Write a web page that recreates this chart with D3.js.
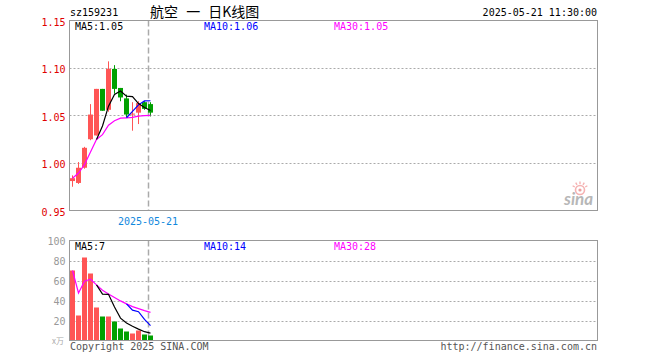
<!DOCTYPE html>
<html><head><meta charset="utf-8">
<script src="https://cdn.jsdelivr.net/npm/d3@7"></script>
<style>html,body{margin:0;padding:0;background:#fff;} svg{display:block;}</style>
</head><body>
<svg id="c" width="660" height="360"></svg>
<script>
// ---------- data ----------
const symbol = "sz159231";
const title = "航空 一 日K线图";
const stamp = "2025-05-21 11:30:00";
const dateLabels = ["2025-05-21"];
const dateLabelIndex = [13];
const openP  = [0.981, 0.979, 0.995, 1.025, 1.029, 1.078, 1.056, 1.099, 1.079, 1.068, 1.051, 1.053, 1.064, 1.062];
const highP  = [0.987, 1.001, 1.017, 1.062, 1.078, 1.078, 1.107, 1.103, 1.079, 1.072, 1.064, 1.065, 1.065, 1.064];
const lowP   = [0.975, 0.978, 0.994, 1.024, 1.029, 1.055, 1.054, 1.073, 1.065, 1.048, 1.034, 1.041, 1.056, 1.049];
const closeP = [0.984, 0.995, 1.016, 1.051, 1.078, 1.055, 1.099, 1.078, 1.069, 1.051, 1.052, 1.063, 1.057, 1.053];
const ma5  = [null, null, null, null, 1.0248, 1.0390, 1.0598, 1.0722, 1.0758, 1.0704, 1.0698, 1.0626, 1.0584, 1.0552];
const ma10 = [null, null, null, null, null, null, null, null, null, 1.0476, 1.0544, 1.0612, 1.0653, 1.0655];
const ma30 = [0.984, 0.9895, 0.9983, 1.0115, 1.0248, 1.0298, 1.0397, 1.0445, 1.0472, 1.0476, 1.0480, 1.0493, 1.0498, 1.0501];
const volume = [70, 25, 83, 67, 33, 24, 24, 19, 12, 9, 7, 10, 6, 5];
const vma5  = [null, null, null, null, 55.6, 46.4, 46.2, 33.4, 22.4, 17.6, 14.2, 11.4, 8.8, 7.4];
const vma10 = [null, null, null, null, null, null, null, null, null, 36.6, 30.3, 28.8, 21.1, 14.9];
const vma30 = [70, 47.5, 59.3, 61.3, 55.6, 50.3, 46.6, 43.1, 39.6, 36.6, 33.9, 31.9, 29.9, 28.1];
const priceTicks = [0.95, 1.00, 1.05, 1.10, 1.15];
const volTicks = [20, 40, 60, 80, 100];
const priceLegend = ["MA5:1.05", "MA10:1.06", "MA30:1.05"];
const volLegend = ["MA5:7", "MA10:14", "MA30:28"];
const volUnit = "x万";
const copyright = "Copyright 2025 SINA.COM";
const siteUrl = "http://finance.sina.com.cn";

// ---------- layout ----------
const svg = d3.select("#c");
const mono = "'DejaVu Sans Mono', 'Liberation Mono', monospace";
const L = 69.5, R = 597.5;
const pTop = 20.5, pBot = 210.5, vTop = 240.5, vBot = 340.5;
const RED = "#ff5555", GREEN = "#00a000";
const maColors = ["#000000", "#0000ff", "#ff00ff"];

const x = d3.scaleLinear().domain([0, 88]).range([70, 598]);
const yP = d3.scaleLinear().domain([0.95, 1.15]).range([pBot, pTop]);
const yV = d3.scaleLinear().domain([0, 100]).range([vBot, vTop]);
const idx = d3.range(closeP.length);

svg.append("rect").attr("width", 660).attr("height", 360).attr("fill", "#fff");

// header
svg.append("text").attr("x", 70).attr("y", 16).attr("font-family", mono).attr("font-size", 10)
  .attr("fill", "#000").text(symbol);
svg.append("text").attr("x", 150).attr("y", 17).attr("font-family", "'Noto Sans CJK SC', sans-serif")
  .attr("font-size", 14).attr("word-spacing", 5).attr("fill", "#000").text(title);
svg.append("text").attr("x", 597).attr("y", 16).attr("text-anchor", "end").attr("font-family", mono)
  .attr("font-size", 10).attr("fill", "#000").text(stamp);

// grids
function grid(scale, ticks) {
  svg.append("g").selectAll("line").data(ticks).join("line")
    .attr("x1", L).attr("x2", R)
    .attr("y1", d => Math.round(scale(d)) + 0.5).attr("y2", d => Math.round(scale(d)) + 0.5)
    .attr("stroke", "#aaa").attr("stroke-dasharray", "2,2");
}
grid(yP, [1.00, 1.05, 1.10]);
grid(yV, [20, 40, 60, 80]);

// dashed date line
dateLabelIndex.forEach(i => {
  const xx = Math.round(x(i)) + 0.5;
  svg.append("line").attr("x1", xx).attr("x2", xx).attr("y1", pTop).attr("y2", pBot)
    .attr("stroke", "#aaa").attr("stroke-width", 1.5).attr("stroke-dasharray", "6,3");
  svg.append("line").attr("x1", xx).attr("x2", xx).attr("y1", vTop).attr("y2", vBot)
    .attr("stroke", "#aaa").attr("stroke-width", 1.5).attr("stroke-dasharray", "6,3");
});

// sina logo
const logo = svg.append("g").attr("opacity", 0.6);
logo.append("circle").attr("cx", 580).attr("cy", 190).attr("r", 4.5).attr("fill", "none")
  .attr("stroke", "#f08080").attr("stroke-width", 1.6);
logo.append("circle").attr("cx", 580).attr("cy", 190).attr("r", 1.6).attr("fill", "#e06060");
[-60, -30, 0, 30, 60].forEach(a => {
  const r = a * Math.PI / 180;
  logo.append("line").attr("x1", 580 + Math.sin(r) * 6).attr("y1", 190 - Math.cos(r) * 6)
    .attr("x2", 580 + Math.sin(r) * 8.5).attr("y2", 190 - Math.cos(r) * 8.5)
    .attr("stroke", "#f08080").attr("stroke-width", 1.4);
});
logo.append("text").attr("x", 564).attr("y", 205).attr("font-family", "Lato, sans-serif")
  .attr("font-style", "italic").attr("font-weight", "bold").attr("font-size", 17)
  .attr("fill", "#888").text("sina");

// candles
const cg = svg.append("g");
idx.forEach(i => {
  const up = closeP[i] >= openP[i];
  const col = up ? RED : GREEN;
  const x0 = x(i);
  cg.append("rect").attr("x", x0 + 2).attr("width", 1)
    .attr("y", yP(highP[i])).attr("height", Math.max(1, yP(lowP[i]) - yP(highP[i]))).attr("fill", col);
  const top = yP(Math.max(openP[i], closeP[i])), bot = yP(Math.min(openP[i], closeP[i]));
  cg.append("rect").attr("x", x0).attr("width", 5)
    .attr("y", top).attr("height", Math.max(1, bot - top)).attr("fill", col);
});

// volume bars
svg.append("g").selectAll("rect").data(idx).join("rect")
  .attr("x", i => x(i)).attr("width", 5)
  .attr("y", i => yV(volume[i])).attr("height", i => yV(0) - yV(volume[i]))
  .attr("fill", i => closeP[i] >= openP[i] ? RED : GREEN);

// MA lines
function maLine(arr, scale, color) {
  const line = d3.line().defined(d => d[1] != null).x(d => x(d[0]) + 2.5).y(d => scale(d[1]));
  svg.append("path").datum(arr.map((v, i) => [i, v])).attr("d", line)
    .attr("fill", "none").attr("stroke", color).attr("stroke-width", 1.2);
}
maLine(ma30, yP, maColors[2]); maLine(ma10, yP, maColors[1]); maLine(ma5, yP, maColors[0]);
maLine(vma30, yV, maColors[2]); maLine(vma10, yV, maColors[1]); maLine(vma5, yV, maColors[0]);

// frames
svg.append("rect").attr("x", L).attr("y", pTop).attr("width", R - L).attr("height", pBot - pTop)
  .attr("fill", "none").attr("stroke", "#999");
svg.append("rect").attr("x", L).attr("y", vTop).attr("width", R - L).attr("height", vBot - vTop)
  .attr("fill", "none").attr("stroke", "#999");

// axes labels
const axP = svg.append("g").attr("transform", `translate(${L},0)`)
  .call(d3.axisLeft(yP).tickValues(priceTicks).tickFormat(d3.format(".2f")).tickSize(0).tickPadding(4));
axP.select(".domain").remove();
axP.selectAll("text").attr("font-family", mono).attr("font-size", 10).attr("fill", "#e00000").attr("dy", "0.45em");
const axV = svg.append("g").attr("transform", `translate(${L},0)`)
  .call(d3.axisLeft(yV).tickValues(volTicks).tickFormat(d3.format("d")).tickSize(0).tickPadding(4));
axV.select(".domain").remove();
axV.selectAll("text").attr("font-family", mono).attr("font-size", 10).attr("fill", "#999").attr("dy", "0.4em");
svg.append("text").attr("x", 64).attr("y", 344).attr("text-anchor", "end")
  .attr("font-family", "'Noto Sans CJK SC', sans-serif").attr("font-size", 8).attr("fill", "#aaa").text(volUnit);

// date label
dateLabelIndex.forEach((i, k) => {
  svg.append("text").attr("x", x(i)).attr("y", 225).attr("text-anchor", "middle")
    .attr("font-family", mono).attr("font-size", 10).attr("fill", "#1188dd").text(dateLabels[k]);
});

// legends
const legX = [75, 204, 334];
priceLegend.forEach((t, k) => svg.append("text").attr("x", legX[k]).attr("y", 30)
  .attr("font-family", mono).attr("font-size", 10).attr("fill", maColors[k]).text(t));
volLegend.forEach((t, k) => svg.append("text").attr("x", legX[k]).attr("y", 250)
  .attr("font-family", mono).attr("font-size", 10).attr("fill", maColors[k]).text(t));

// footer
svg.append("text").attr("x", 70).attr("y", 350).attr("font-family", mono).attr("font-size", 10)
  .attr("fill", "#555").text(copyright);
svg.append("text").attr("x", 597).attr("y", 350).attr("text-anchor", "end").attr("font-family", mono)
  .attr("font-size", 10).attr("fill", "#555").text(siteUrl);
</script>
</body></html>
